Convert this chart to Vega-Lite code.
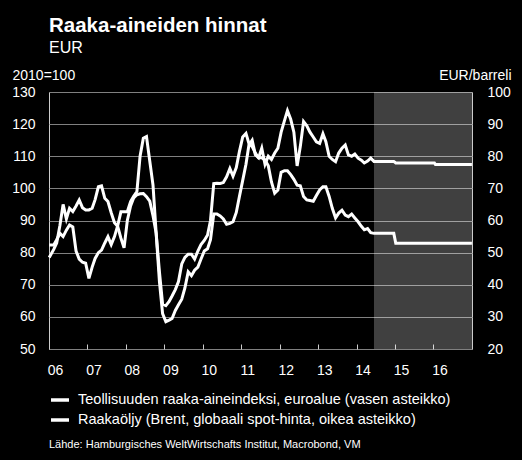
{
  "$schema": "https://vega.github.io/schema/vega-lite/v6.json",
  "width": 423,
  "height": 257,
  "autosize": {"type": "none"},
  "padding": {"left": 49, "top": 92, "right": 50, "bottom": 111},
  "background": "black",
  "config": {
    "font": "Liberation Sans",
    "view": {"stroke": "#cccccc", "strokeWidth": 1}
  },
  "title": {
    "text": "Raaka-aineiden hinnat",
    "subtitle": "EUR",
    "anchor": "start",
    "frame": "group",
    "color": "white",
    "subtitleColor": "white",
    "font": "Liberation Sans",
    "subtitleFont": "Liberation Sans",
    "fontSize": 20.5,
    "fontWeight": "bold",
    "subtitleFontSize": 16,
    "subtitlePadding": 4,
    "offset": 12
  },
  "data": {
    "values": [
      {"d": "2006-01-03", "ind": 78.5, "oil": 52.4},
      {"d": "2006-02-15", "ind": 81, "oil": 52.4},
      {"d": "2006-03-15", "ind": 83, "oil": 54},
      {"d": "2006-04-15", "ind": 88.5, "oil": 56},
      {"d": "2006-05-15", "ind": 95, "oil": 55},
      {"d": "2006-06-15", "ind": 90.5, "oil": 57},
      {"d": "2006-07-15", "ind": 93.8, "oil": 58.6},
      {"d": "2006-08-15", "ind": 92.8, "oil": 58},
      {"d": "2006-09-15", "ind": 94.5, "oil": 50.5},
      {"d": "2006-10-15", "ind": 96.4, "oil": 48},
      {"d": "2006-11-15", "ind": 94, "oil": 47},
      {"d": "2006-12-15", "ind": 93.3, "oil": 46.7},
      {"d": "2007-01-15", "ind": 93.3, "oil": 42},
      {"d": "2007-02-15", "ind": 93.8, "oil": 45.5},
      {"d": "2007-03-15", "ind": 96.5, "oil": 48.2},
      {"d": "2007-04-15", "ind": 100.5, "oil": 50},
      {"d": "2007-05-15", "ind": 100.8, "oil": 50.8},
      {"d": "2007-06-15", "ind": 96.9, "oil": 53},
      {"d": "2007-07-15", "ind": 95.9, "oil": 55},
      {"d": "2007-08-15", "ind": 92.4, "oil": 52.5},
      {"d": "2007-09-15", "ind": 89.3, "oil": 55},
      {"d": "2007-10-15", "ind": 88.2, "oil": 58.3},
      {"d": "2007-11-15", "ind": 84.5, "oil": 62.7},
      {"d": "2007-12-15", "ind": 81.5, "oil": 62.7},
      {"d": "2008-01-15", "ind": 90, "oil": 62.7},
      {"d": "2008-02-15", "ind": 94.5, "oil": 65.9},
      {"d": "2008-03-15", "ind": 97, "oil": 67.5},
      {"d": "2008-04-15", "ind": 98, "oil": 69},
      {"d": "2008-05-15", "ind": 98.3, "oil": 80},
      {"d": "2008-06-15", "ind": 98.4, "oil": 85.6},
      {"d": "2008-07-15", "ind": 97.4, "oil": 86.1},
      {"d": "2008-08-15", "ind": 96, "oil": 78.5},
      {"d": "2008-09-15", "ind": 91.5, "oil": 71},
      {"d": "2008-10-15", "ind": 86, "oil": 56},
      {"d": "2008-11-15", "ind": 74, "oil": 41},
      {"d": "2008-12-15", "ind": 64, "oil": 31},
      {"d": "2009-01-15", "ind": 63.5, "oil": 28.5},
      {"d": "2009-02-15", "ind": 64.8, "oil": 29},
      {"d": "2009-03-15", "ind": 66.5, "oil": 29.5},
      {"d": "2009-04-15", "ind": 68.5, "oil": 32},
      {"d": "2009-05-15", "ind": 71, "oil": 33.8},
      {"d": "2009-06-15", "ind": 76.5, "oil": 35.5},
      {"d": "2009-07-15", "ind": 78.5, "oil": 39},
      {"d": "2009-08-15", "ind": 79.5, "oil": 44},
      {"d": "2009-09-15", "ind": 79.5, "oil": 42.8},
      {"d": "2009-10-15", "ind": 78, "oil": 44.5},
      {"d": "2009-11-15", "ind": 80.5, "oil": 45.5},
      {"d": "2009-12-15", "ind": 82.5, "oil": 48},
      {"d": "2010-01-15", "ind": 83.8, "oil": 50.5},
      {"d": "2010-02-15", "ind": 85.5, "oil": 51.2},
      {"d": "2010-03-15", "ind": 90, "oil": 54},
      {"d": "2010-04-15", "ind": 101.5, "oil": 62},
      {"d": "2010-05-15", "ind": 101.6, "oil": 62},
      {"d": "2010-06-15", "ind": 101.5, "oil": 61.4},
      {"d": "2010-07-15", "ind": 101.8, "oil": 60.5},
      {"d": "2010-08-15", "ind": 103.6, "oil": 58.8},
      {"d": "2010-09-15", "ind": 106.2, "oil": 59.1},
      {"d": "2010-10-15", "ind": 103.8, "oil": 59.6},
      {"d": "2010-11-15", "ind": 106.5, "oil": 62.5},
      {"d": "2010-12-15", "ind": 111.5, "oil": 67.5},
      {"d": "2011-01-15", "ind": 116, "oil": 72.5},
      {"d": "2011-02-15", "ind": 117.1, "oil": 77.5},
      {"d": "2011-03-15", "ind": 114, "oil": 83.5},
      {"d": "2011-04-15", "ind": 113, "oil": 85},
      {"d": "2011-05-15", "ind": 111, "oil": 80.5},
      {"d": "2011-06-15", "ind": 109.5, "oil": 79.5},
      {"d": "2011-07-15", "ind": 109.5, "oil": 82.5},
      {"d": "2011-08-15", "ind": 108.8, "oil": 77.5},
      {"d": "2011-09-15", "ind": 107, "oil": 80},
      {"d": "2011-10-15", "ind": 102, "oil": 79},
      {"d": "2011-11-15", "ind": 98.5, "oil": 81},
      {"d": "2011-12-15", "ind": 99.5, "oil": 82.5},
      {"d": "2012-01-15", "ind": 105, "oil": 87.5},
      {"d": "2012-02-15", "ind": 105.5, "oil": 91},
      {"d": "2012-03-15", "ind": 105.5, "oil": 94.2},
      {"d": "2012-04-15", "ind": 104.3, "oil": 91.5},
      {"d": "2012-05-15", "ind": 102.8, "oil": 87.5},
      {"d": "2012-06-15", "ind": 101, "oil": 77},
      {"d": "2012-07-15", "ind": 100.8, "oil": 83},
      {"d": "2012-08-15", "ind": 97.5, "oil": 90.8},
      {"d": "2012-09-15", "ind": 96.4, "oil": 89.5},
      {"d": "2012-10-15", "ind": 96.2, "oil": 87.5},
      {"d": "2012-11-15", "ind": 96, "oil": 86},
      {"d": "2012-12-15", "ind": 97.8, "oil": 84.5},
      {"d": "2013-01-15", "ind": 99.5, "oil": 84},
      {"d": "2013-02-15", "ind": 100.5, "oil": 87},
      {"d": "2013-03-15", "ind": 100.5, "oil": 84.5},
      {"d": "2013-04-15", "ind": 97.5, "oil": 80},
      {"d": "2013-05-15", "ind": 93.8, "oil": 79},
      {"d": "2013-06-15", "ind": 90.8, "oil": 78.3},
      {"d": "2013-07-15", "ind": 92.3, "oil": 81},
      {"d": "2013-08-15", "ind": 93.2, "oil": 82.5},
      {"d": "2013-09-15", "ind": 91.7, "oil": 83.5},
      {"d": "2013-10-15", "ind": 91.2, "oil": 80.4},
      {"d": "2013-11-15", "ind": 92, "oil": 80},
      {"d": "2013-12-15", "ind": 90.8, "oil": 80.7},
      {"d": "2014-01-15", "ind": 89.6, "oil": 79.4},
      {"d": "2014-02-15", "ind": 88.2, "oil": 78.8},
      {"d": "2014-03-15", "ind": 87.1, "oil": 77.9},
      {"d": "2014-04-15", "ind": 87.5, "oil": 78.5},
      {"d": "2014-05-15", "ind": 86.2, "oil": 79.4},
      {"d": "2014-06-15", "ind": 86, "oil": 78.4},
      {"d": "2014-12-20", "ind": 86, "oil": 78.4},
      {"d": "2015-01-08", "ind": 82.9, "oil": 77.9},
      {"d": "2016-01-10", "ind": 82.9, "oil": 77.9},
      {"d": "2016-01-20", "ind": 82.9, "oil": 77.4},
      {"d": "2016-12-31", "ind": 82.9, "oil": 77.4}
    ]
  },
  "layer": [
    {
      "data": {"values": [{"s": "2014-06-15", "e": "2017-01-01"}]},
      "mark": {"type": "rect", "fill": "#ffffff", "opacity": 0.25},
      "encoding": {
        "x": {
          "field": "s",
          "type": "temporal",
          "title": null,
          "scale": {"type": "utc", "domain": ["2006-01-01", "2017-01-01"]},
          "axis": {
            "values": ["2006-01-01", "2007-01-01", "2008-01-01", "2009-01-01", "2010-01-01", "2011-01-01", "2012-01-01", "2013-01-01", "2014-01-01", "2015-01-01", "2016-01-01"],
            "format": "%y",
            "labelColor": "white",
            "labelFontSize": 14,
            "labelAlign": "center",
            "labelOffset": 6,
            "labelPadding": 19,
            "tickColor": "#cccccc",
            "tickSize": -5,
            "domain": false,
            "grid": false,
            "labelFlush": false,
            "labelOverlap": false
          }
        },
        "x2": {"field": "e"}
      }
    },
    {
      "layer": [
        {
          "mark": {"type": "line", "strokeWidth": 3},
          "encoding": {
            "x": {"field": "d", "type": "temporal", "title": null},
            "y": {
              "field": "ind",
              "type": "quantitative",
              "scale": {"domain": [50, 130], "nice": false, "zero": false},
              "axis": {
                "orient": "left",
                "values": [50, 60, 70, 80, 90, 100, 110, 120, 130],
                "grid": true,
                "gridColor": "#808080",
                "gridWidth": 1,
                "domain": false,
                "ticks": false,
                "labelColor": "white",
                "labelFontSize": 14,
                "labelPadding": 14,
                "title": "2010=100",
                "titleAngle": 0,
                "titleAlign": "left",
                "titleBaseline": "alphabetic",
                "titleX": -37,
                "titleY": -13,
                "titleColor": "white",
                "titleFontSize": 14,
                "titleFontWeight": "normal"
              }
            },
            "color": {
              "datum": "Teollisuuden raaka-aineindeksi, euroalue (vasen asteikko)",
              "scale": {
                "domain": ["Teollisuuden raaka-aineindeksi, euroalue (vasen asteikko)", "Raakaöljy (Brent, globaali spot-hinta, oikea asteikko)"],
                "range": ["#ffffff", "#ffffff"]
              },
              "legend": {
                "orient": "none",
                "legendX": 0,
                "legendY": 297,
                "padding": 0,
                "symbolType": "stroke",
                "symbolSize": 324,
                "symbolStrokeWidth": 3.5,
                "symbolStrokeColor": "#ffffff",
                "labelColor": "white",
                "labelFontSize": 14.5,
                "labelLimit": 600,
                "labelOffset": 7,
                "rowPadding": 2,
                "title": "Lähde: Hamburgisches WeltWirtschafts Institut, Macrobond, VM",
                "titleOrient": "bottom",
                "titleAnchor": "start",
                "titleColor": "white",
                "titleFontSize": 11,
                "titleFontWeight": "normal",
                "titleLimit": 600,
                "titlePadding": 12
              }
            }
          }
        },
        {
          "mark": {"type": "line", "strokeWidth": 3},
          "encoding": {
            "x": {"field": "d", "type": "temporal", "title": null},
            "y": {
              "field": "oil",
              "type": "quantitative",
              "scale": {"domain": [20, 100], "nice": false, "zero": false},
              "axis": {
                "orient": "right",
                "values": [20, 30, 40, 50, 60, 70, 80, 90, 100],
                "grid": false,
                "domain": false,
                "ticks": false,
                "labelColor": "white",
                "labelFontSize": 14,
                "labelAlign": "left",
                "labelPadding": 15,
                "title": "EUR/barreli",
                "titleAngle": 0,
                "titleAlign": "right",
                "titleBaseline": "alphabetic",
                "titleX": 39,
                "titleY": -13,
                "titleColor": "white",
                "titleFontSize": 14,
                "titleFontWeight": "normal"
              }
            },
            "color": {"datum": "Raakaöljy (Brent, globaali spot-hinta, oikea asteikko)"}
          }
        }
      ],
      "resolve": {"scale": {"y": "independent"}}
    }
  ],
  "resolve": {"scale": {"y": "independent"}}
}
